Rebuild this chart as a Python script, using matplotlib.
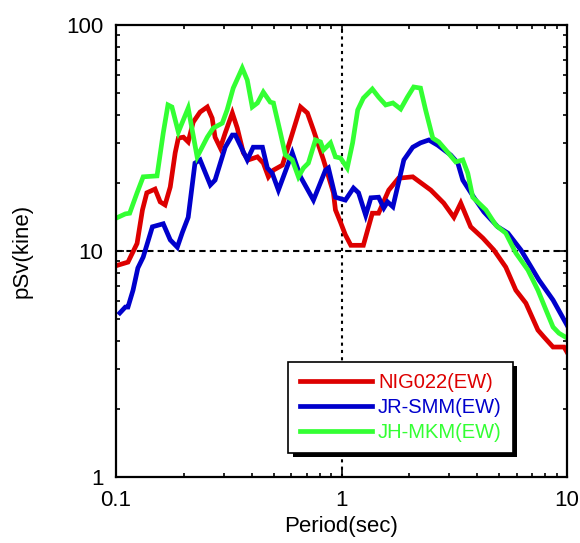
import matplotlib
matplotlib.use("Agg")
import matplotlib.pyplot as plt
from matplotlib.ticker import LogLocator, NullFormatter, FixedLocator, FixedFormatter
import matplotlib.patheffects as pe

plt.rcParams['font.family'] = ['Liberation Sans', 'DejaVu Sans']

# NIG022(EW)
nig_period = [0.102, 0.113, 0.124, 0.131, 0.137, 0.149, 0.157, 0.165, 0.174, 0.183,
              0.189, 0.199, 0.209, 0.220, 0.236, 0.254, 0.267, 0.275, 0.290, 0.305,
              0.328, 0.345, 0.367, 0.386, 0.424, 0.450, 0.474, 0.499, 0.547, 0.593,
              0.658, 0.706, 0.751, 0.832, 0.921, 0.940, 0.990, 1.04, 1.10, 1.25,
              1.37, 1.46, 1.62, 1.79, 2.07, 2.49, 2.84, 3.15, 3.38, 3.74,
              4.24, 4.74, 5.35, 5.93, 6.57, 7.43, 7.91, 8.67, 9.70, 10.0]
nig_psv = [8.66, 8.93, 10.8, 15.2, 18.1, 18.8, 16.5, 16.0, 19.2, 27.2,
           31.6, 31.9, 30.4, 37.2, 41.2, 43.4, 38.7, 31.9, 28.6, 33.3,
           40.8, 35.0, 27.2, 25.3, 26.1, 24.5, 21.3, 22.8, 24.0, 31.0,
           43.4, 40.8, 34.3, 25.3, 18.1, 15.2, 13.4, 11.8, 10.6, 10.6,
           14.7, 14.7, 18.6, 21.0, 21.3, 18.6, 16.3, 14.1, 16.3, 12.8,
           11.4, 10.1, 8.49, 6.71, 5.88, 4.47, 4.16, 3.76, 3.76, 3.57]

# JR-SMM(EW)
smm_period = [0.104, 0.110, 0.113, 0.119, 0.125, 0.132, 0.145, 0.162, 0.174, 0.187,
              0.197, 0.209, 0.224, 0.236, 0.262, 0.275, 0.305, 0.328, 0.338, 0.382,
              0.406, 0.446, 0.469, 0.493, 0.525, 0.605, 0.658, 0.751, 0.849, 0.875,
              0.940, 1.04, 1.13, 1.19, 1.28, 1.35, 1.46, 1.54, 1.60, 1.69,
              1.89, 2.07, 2.24, 2.44, 2.67, 3.05, 3.28, 3.45, 3.86, 4.28,
              4.93, 5.47, 6.25, 7.51, 8.67, 10.0]
smm_psv = [5.32, 5.65, 5.65, 6.71, 8.41, 9.40, 12.8, 13.2, 11.2, 10.4,
           12.1, 14.1, 24.5, 25.3, 19.6, 20.6, 28.8, 32.6, 32.6, 25.3,
           28.8, 28.8, 23.3, 22.1, 18.6, 27.2, 21.3, 16.8, 22.8, 23.3,
           17.3, 16.8, 19.0, 18.1, 14.4, 17.2, 17.3, 15.5, 16.5, 15.7,
           25.3, 28.8, 30.1, 31.0, 29.4, 26.6, 24.5, 20.6, 17.3, 14.9,
           12.8, 12.0, 10.1, 7.44, 6.07, 4.7]

# JH-MKM(EW)
mkm_period = [0.102, 0.110, 0.115, 0.124, 0.132, 0.152, 0.162, 0.170, 0.177, 0.189,
              0.209, 0.229, 0.254, 0.270, 0.296, 0.311, 0.331, 0.363, 0.382, 0.402,
              0.424, 0.450, 0.483, 0.499, 0.536, 0.564, 0.605, 0.644, 0.678, 0.713,
              0.766, 0.807, 0.832, 0.894, 0.940, 0.990, 1.06, 1.12, 1.18, 1.25,
              1.37, 1.46, 1.57, 1.69, 1.83, 1.96, 2.09, 2.24, 2.36, 2.54,
              2.70, 2.90, 3.21, 3.45, 3.63, 3.82, 4.37, 4.84, 5.35, 5.93,
              6.71, 7.43, 8.07, 8.67, 9.21, 10.0]
mkm_psv = [14.1, 14.6, 14.7, 18.1, 21.3, 21.5, 33.3, 44.3, 43.4, 33.6,
           42.9, 26.1, 31.9, 35.0, 36.8, 42.1, 52.6, 64.5, 57.1, 43.4,
           45.2, 50.5, 45.6, 45.2, 33.3, 26.6, 25.3, 21.3, 23.3, 24.5,
           31.0, 30.4, 28.0, 30.1, 26.1, 25.8, 23.3, 30.1, 42.1, 47.5,
           52.1, 48.0, 44.3, 45.2, 42.5, 48.0, 53.2, 52.6, 42.1, 31.6,
           30.4, 28.0, 24.8, 25.3, 22.1, 17.3, 15.2, 13.0, 12.0, 9.80,
           8.24, 6.71, 5.48, 4.61, 4.33, 4.12]

series = [
    ("NIG022(EW)", nig_period, nig_psv, "#dd0000"),
    ("JR-SMM(EW)", smm_period, smm_psv, "#0000cc"),
    ("JH-MKM(EW)", mkm_period, mkm_psv, "#33ff33"),
]

fig = plt.figure(figsize=(5.8, 5.43), dpi=100)
ax = fig.add_axes([0.2, 0.1215, 0.7776, 0.8324])

for name, per, psv, col in series:
    ax.plot(per, psv, color=col, lw=3.4, label=name, solid_joinstyle='miter')

ax.set_xscale('log')
ax.set_yscale('log')
ax.set_xlim(0.1, 10)
ax.set_ylim(1, 100)

# dashed grid only through the inner decades
ax.axvline(1, color='black', lw=1.5, ls=(0, (1.5, 2)), zorder=0.5)
ax.axhline(10, color='black', lw=1.5, ls=(0, (3, 2)), zorder=0.5)

ax.xaxis.set_major_locator(FixedLocator([0.1, 1, 10]))
ax.xaxis.set_major_formatter(FixedFormatter(['0.1', '1', '10']))
ax.yaxis.set_major_locator(FixedLocator([1, 10, 100]))
ax.yaxis.set_major_formatter(FixedFormatter(['1', '10', '100']))
for a in (ax.xaxis, ax.yaxis):
    a.set_minor_locator(LogLocator(base=10, subs=range(2, 10)))
    a.set_minor_formatter(NullFormatter())

ax.tick_params(which='both', direction='in', top=True, right=True,
               labelsize=16, width=1.2)
ax.tick_params(which='major', length=6)
ax.tick_params(axis='y', which='major', pad=9)
ax.tick_params(axis='x', which='major', pad=9)
ax.tick_params(which='minor', length=3)
for s in ax.spines.values():
    s.set_linewidth(1.6)

ax.set_xlabel('Period(sec)', fontsize=16)
ax.set_ylabel('pSv(kine)', fontsize=16)
ax.xaxis.set_label_coords(0.5, -0.087)
ax.yaxis.set_label_coords(-0.186, 0.5)

leg = ax.legend(loc='lower right', bbox_to_anchor=(0.88, 0.053),
                fontsize=14.5, frameon=True, fancybox=False, shadow=False,
                framealpha=1, handlelength=3.6, handletextpad=0.3,
                labelspacing=0.3, borderpad=0.55, borderaxespad=0)
frame = leg.get_frame()
frame.set_edgecolor('black')
frame.set_facecolor('white')
frame.set_linewidth(1.2)
frame.set_path_effects([pe.SimplePatchShadow(offset=(3, -3), shadow_rgbFace='black', alpha=1),
                        pe.Normal()])
for txt, (_, _, _, col) in zip(leg.get_texts(), series):
    txt.set_color(col)

fig.savefig('out.png', dpi=100)
